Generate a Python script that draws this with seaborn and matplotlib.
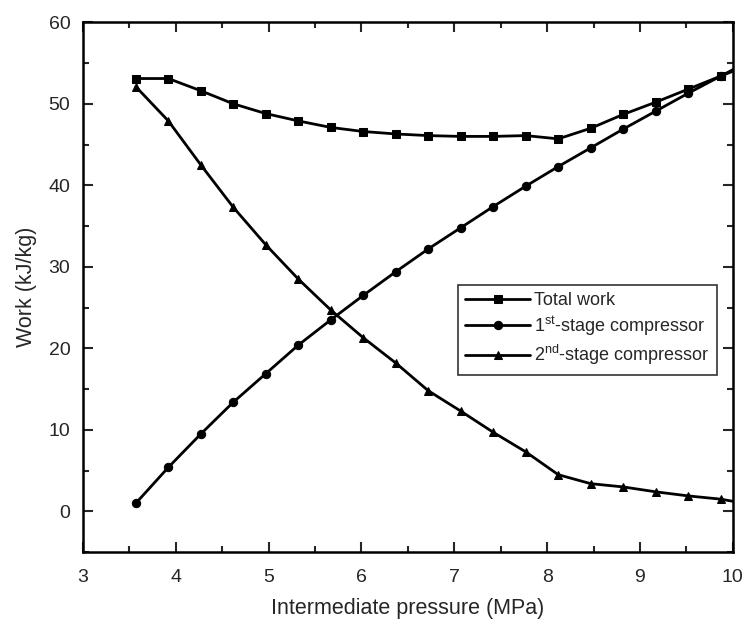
import matplotlib
matplotlib.use("Agg")
import matplotlib.pyplot as plt
from matplotlib.ticker import MultipleLocator
import seaborn as sns
import pandas as pd

pressure = [3.57, 3.92, 4.27, 4.62, 4.97, 5.32, 5.67, 6.02, 6.37, 6.72,
            7.07, 7.42, 7.77, 8.12, 8.47, 8.82, 9.17, 9.52, 9.87, 10.22]
total_work = [53.1, 53.1, 51.6, 50.0, 48.8, 47.9, 47.1, 46.6, 46.3, 46.1,
              46.0, 46.0, 46.1, 45.7, 47.0, 48.7, 50.2, 51.8, 53.4, 55.0]
first_stage = [1.0, 5.4, 9.5, 13.4, 16.9, 20.4, 23.5, 26.5, 29.4, 32.2,
               34.8, 37.4, 39.9, 42.3, 44.6, 46.9, 49.1, 51.3, 53.4, 55.5]
second_stage = [52.1, 47.9, 42.5, 37.3, 32.7, 28.5, 24.7, 21.3, 18.2, 14.8,
                12.3, 9.7, 7.3, 4.5, 3.4, 3.0, 2.4, 1.9, 1.5, 0.8]

labels = ["Total work", r"1$^{\mathrm{st}}$-stage compressor", r"2$^{\mathrm{nd}}$-stage compressor"]
markers = ["s", "o", "^"]

sns.set_style("ticks")
plt.rcParams['font.family'] = ['Liberation Sans', 'DejaVu Sans']
plt.rcParams['mathtext.fontset'] = 'custom'
plt.rcParams['mathtext.rm'] = 'Liberation Sans'

fig = plt.figure(figsize=(7.47, 6.19), dpi=100)
ax = fig.add_axes([0.111, 0.108, 0.870, 0.856])

for vals, lab, mk in zip([total_work, first_stage, second_stage], labels, markers):
    df = pd.DataFrame({"p": pressure, "w": vals})
    sns.lineplot(data=df, x="p", y="w", ax=ax, color="black", linewidth=2,
                 marker=mk, markersize=6, markeredgecolor="black",
                 markerfacecolor="black", label=lab, clip_on=True)

ax.set_xlim(3, 10)
ax.set_ylim(-5, 60)
ax.xaxis.set_major_locator(MultipleLocator(1))
ax.xaxis.set_minor_locator(MultipleLocator(0.5))
ax.yaxis.set_major_locator(MultipleLocator(10))
ax.yaxis.set_minor_locator(MultipleLocator(5))
ax.tick_params(which="both", direction="in", top=True, right=True, width=1.5,
               labelsize=14)
ax.tick_params(axis="x", pad=12)
ax.tick_params(axis="y", pad=9)
ax.tick_params(which="major", length=7)
ax.tick_params(which="minor", length=4)
for s in ax.spines.values():
    s.set_linewidth(1.8)
    s.set_color("black")

ax.set_xlabel("Intermediate pressure (MPa)", fontsize=15.5, labelpad=9)
ax.set_ylabel("Work (kJ/kg)", fontsize=15.5, labelpad=8)

leg = ax.legend(loc="lower right", bbox_to_anchor=(0.975, 0.335), fontsize=13,
                frameon=True, fancybox=False, edgecolor="black",
                handlelength=3.6, handletextpad=0.2, borderpad=0.4,
                labelspacing=0.3, borderaxespad=0)
leg.get_frame().set_linewidth(1.2)

fig.savefig("out.png", dpi=100)
